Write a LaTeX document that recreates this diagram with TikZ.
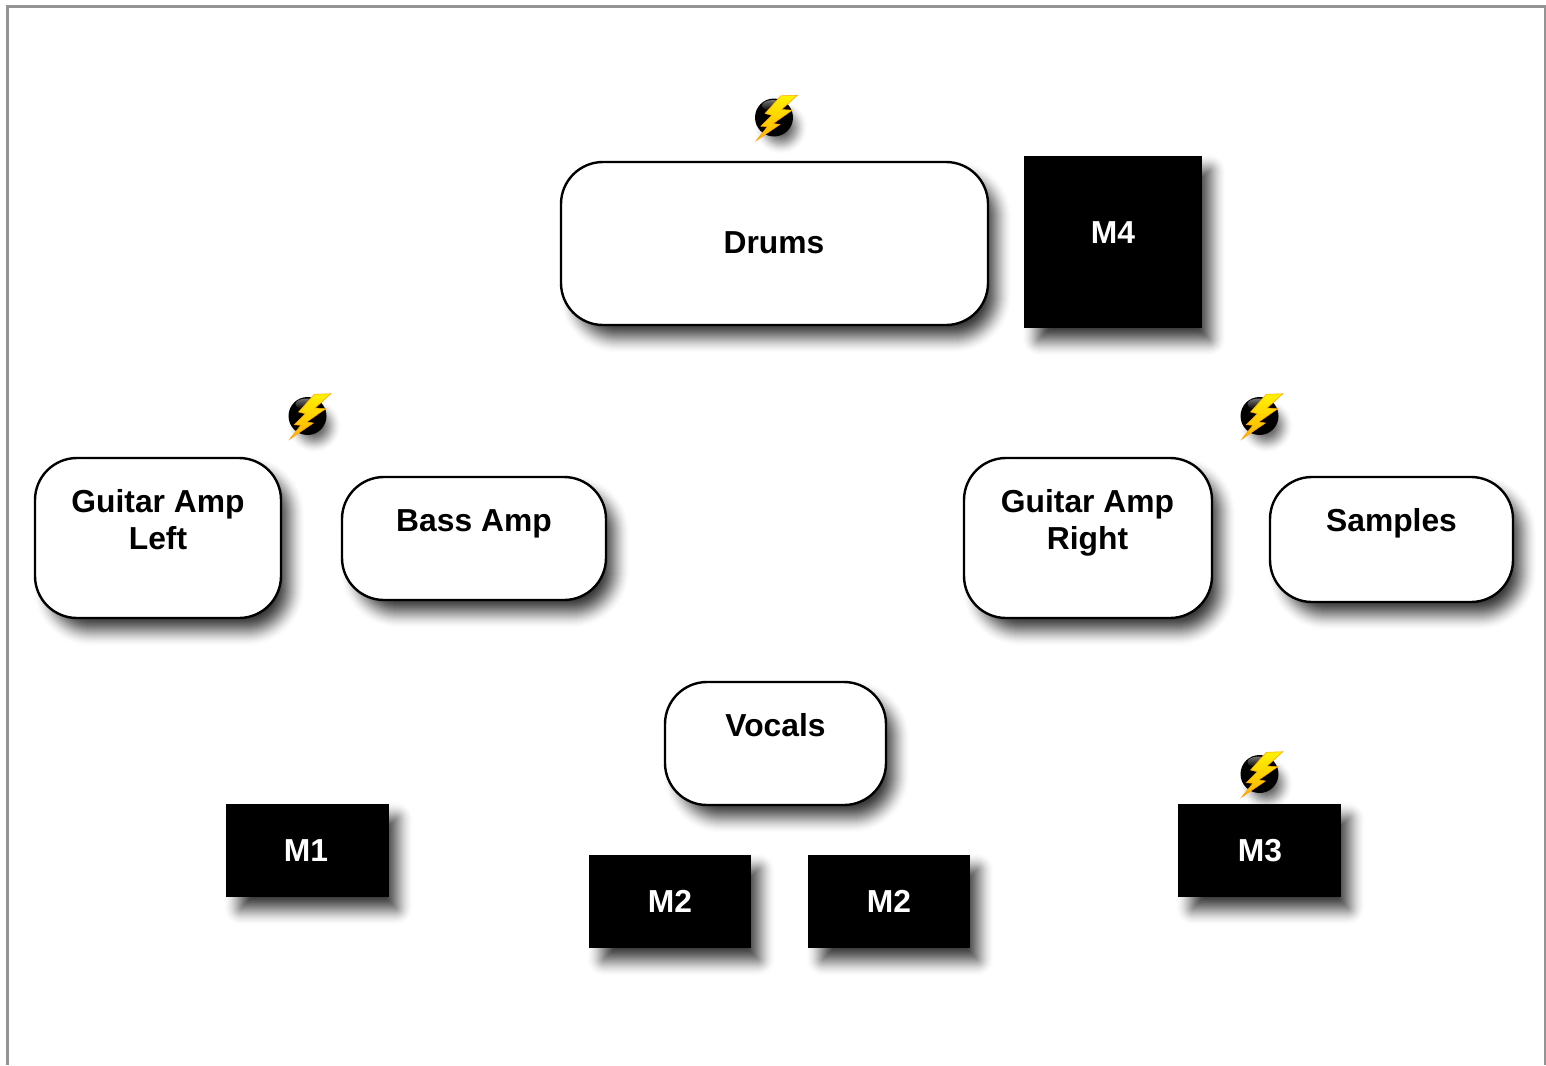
\documentclass[tikz,border=0pt]{standalone}
\usepackage{fontspec}
\setmainfont{Liberation Sans}
\begin{document}
\begin{tikzpicture}[x=1pt,y=-1pt,
  roundbox/.style={draw=black,line width=2.4pt,fill=white,rounded corners=42pt,inner sep=0pt},
  blackbox/.style={draw=none,fill=black,inner sep=0pt},
  boxtext/.style={font=\fontsize{31.8}{37}\selectfont\bfseries,align=center,anchor=base,inner sep=0pt,text=black},
  invtext/.style={boxtext,text=white}]
\useasboundingbox (0,0) rectangle (1546,1065);
% soft shadow: x0,y0,x1,y1,radius; smoothstep build-up of layers
\newcommand\softshadow[5]{%
  \foreach \i in {16,15,...,-16}{%
    \pgfmathsetmacro\tt{(16-\i+1)/33}%
    \pgfmathsetmacro\tp{(16-\i)/33}%
    \pgfmathsetmacro\Aa{0.8*(3*\tt*\tt-2*\tt*\tt*\tt)}%
    \pgfmathsetmacro\Ab{0.8*(3*\tp*\tp-2*\tp*\tp*\tp)}%
    \pgfmathsetmacro\al{1-(1-\Aa)/(1-\Ab)}%
    \pgfmathsetmacro\rr{max(#5+\i,1)}%
    \fill[black,opacity=\al,rounded corners=\rr pt]
      (#1+14-\i,#2+14-\i) rectangle (#3+8+\i,#4+12+\i);
  }%
}
% lightning icon centred on the ball
\newcommand\bolticon[2]{%
  \begin{scope}[shift={(#1,#2)}]
    \foreach \i in {12,11,...,-12}{%
      \pgfmathsetmacro\tt{(12-\i+1)/25}%
      \pgfmathsetmacro\tp{(12-\i)/25}%
      \pgfmathsetmacro\Aa{0.65*(3*\tt*\tt-2*\tt*\tt*\tt)}%
      \pgfmathsetmacro\Ab{0.65*(3*\tp*\tp-2*\tp*\tp*\tp)}%
      \pgfmathsetmacro\al{1-(1-\Aa)/(1-\Ab)}%
      \pgfmathsetmacro\rr{15+\i}%
      \fill[black,opacity=\al] (7,10) circle (\rr);
    }
    \fill[black] (0,0) circle (19);
    \shade[top color=white,bottom color=black,opacity=0.45] (-1,-12) ellipse (11 and 5.5);
    \shade[top color=yellow!90!orange,bottom color=orange!60!yellow,draw=orange!75!yellow,line width=0.5pt]
      (6.7,-21.7) -- (23.3,-22.3) -- (7.7,-8) -- (18.3,-7.3) -- (-0.7,6) -- (6,7)
      -- (-18,23.3) -- (-6.7,9.3) -- (-13.3,8.7) -- (-2.3,-2.3) -- (-9,-4) -- cycle;
  \end{scope}%
}
% page frame
\draw[line width=2.6pt,draw=black!42] (7.5,1065) -- (7.5,6.5) -- (1545,6.5) -- (1545,1065);

% shadows
\softshadow{561}{162}{988}{325}{42}
\softshadow{1024}{156}{1202}{328}{1}
\softshadow{35}{458}{281}{618}{42}
\softshadow{342}{477}{606}{600}{42}
\softshadow{964}{458}{1212}{618}{42}
\softshadow{1270}{477}{1513}{602}{42}
\softshadow{665}{682}{886}{805}{42}
\softshadow{226}{804}{389}{897}{1}
\softshadow{589}{855}{751}{948}{1}
\softshadow{808}{855}{970}{948}{1}
\softshadow{1178}{804}{1341}{897}{1}

% boxes
\node[roundbox,minimum width=427pt,minimum height=163pt] (drums) at (774.5,243.5) {};
\node[blackbox,minimum width=178pt,minimum height=172pt] (m4) at (1113,242) {};
\node[roundbox,minimum width=246pt,minimum height=160pt] (gl) at (158,538) {};
\node[roundbox,minimum width=264pt,minimum height=123pt] (bass) at (474,538.5) {};
\node[roundbox,minimum width=248pt,minimum height=160pt] (gr) at (1088,538) {};
\node[roundbox,minimum width=243pt,minimum height=125pt] (samples) at (1391.5,539.5) {};
\node[roundbox,minimum width=221pt,minimum height=123pt] (vocals) at (775.5,743.5) {};
\node[blackbox,minimum width=163pt,minimum height=93pt] (m1) at (307.5,850.5) {};
\node[blackbox,minimum width=162pt,minimum height=93pt] (m2a) at (670,901.5) {};
\node[blackbox,minimum width=162pt,minimum height=93pt] (m2b) at (889,901.5) {};
\node[blackbox,minimum width=163pt,minimum height=93pt] (m3) at (1259.5,850.5) {};

% labels
\node[boxtext] (tdrums) at (774,253) {Drums};
\node[invtext] (tm4) at (1113,243) {M4};
\node[boxtext] (tgl) at (158,549) {Guitar Amp\\Left};
\node[boxtext] (tbass) at (474,531) {Bass Amp};
\node[boxtext] (tgr) at (1087.5,549) {Guitar Amp\\Right};
\node[boxtext] (tsamples) at (1391.5,531) {Samples};
\node[boxtext] (tvocals) at (775.5,736) {Vocals};
\node[invtext] (tm1) at (306,861) {M1};
\node[invtext] (tm2a) at (670,912) {M2};
\node[invtext] (tm2b) at (889,912) {M2};
\node[invtext] (tm3) at (1260,861) {M3};

% icons
\bolticon{774}{117.5}
\bolticon{307.5}{416}
\bolticon{1259.5}{416}
\bolticon{1259.5}{774}
\end{tikzpicture}
\end{document}
